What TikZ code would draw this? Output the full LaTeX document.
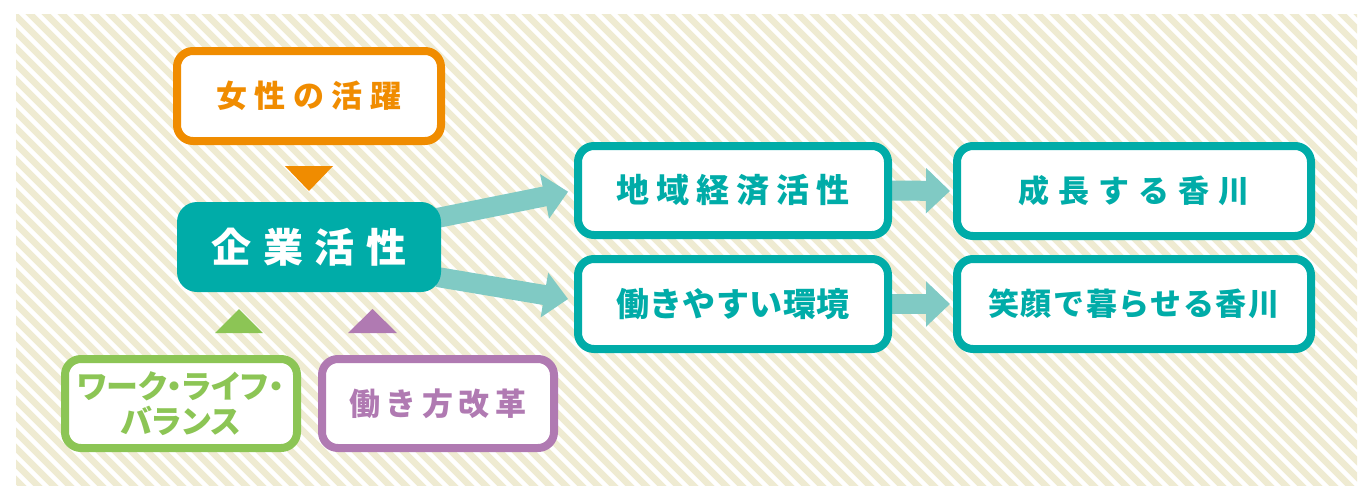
\documentclass[tikz,border=0pt]{standalone}
\usepackage{fontspec}
\newfontfamily\jp{Noto Sans CJK JP}
\usetikzlibrary{arrows.meta,backgrounds,calc}
\definecolor{tealc}{RGB}{0,172,168}
\definecolor{arrowc}{RGB}{128,202,196}
\definecolor{orangec}{RGB}{240,140,0}
\definecolor{greenc}{RGB}{140,197,85}
\definecolor{purplec}{RGB}{176,122,178}
\definecolor{stripec}{RGB}{239,235,210}
\makeatletter
\newcommand\spc[2]{\def\spc@sep{}\@tfor\spc@c:=#2\do{\spc@sep\spc@c\def\spc@sep{\kern#1pt}}}
\makeatother
\tikzset{
  box/.style={draw, line width=8pt, rounded corners=16pt, fill=white, inner sep=0pt,
    minimum height=90pt},
  f31/.style={font=\jp\bfseries\fontsize{31}{36}\selectfont},
  f33/.style={font=\jp\bfseries\fontsize{33}{38}\selectfont},
  bigarrow/.style={draw=arrowc, line width=20pt, -{Triangle[width=44pt,length=24pt]}},
  stripe/.style={draw=stripec, line width=6.5pt},
}
\begin{document}
\begin{tikzpicture}[x=1pt,y=-1pt]
\useasboundingbox (0,0) rectangle (1366,485);

\node[box, f31, draw=orangec, text=orangec, minimum width=264pt] (josei) at (309,96) {\spc{7.5}{女性の活躍}};
\node[fill=tealc, rounded corners=20pt, minimum width=264pt, minimum height=90pt, inner sep=0pt,
  text=white, font=\jp\bfseries\fontsize{40}{44}\selectfont] (kigyo) at (309,247) {\spc{11.5}{企業活性}};
\node[box, f33, draw=tealc, text=tealc, minimum width=310pt, minimum height=89pt] (chiiki) at (733,190.5) {\spc{7}{地域経済活性}};
\node[box, f33, draw=tealc, text=tealc, minimum width=310pt] (hataraki) at (733,304) {\spc{0.5}{働きやすい環境}};
\node[box, f31, draw=tealc, text=tealc, minimum width=354pt] (seicho) at (1134,191) {\spc{9}{成長する香川}};
\node[box, f31, draw=tealc, text=tealc, minimum width=354pt] (egao) at (1134,304) {\spc{1.5}{笑顔で暮らせる香川}};
\node[box, draw=greenc, text=greenc, minimum width=232pt, minimum height=89pt, align=center,
  font=\jp\bfseries\fontsize{32}{35}\selectfont\addfontfeatures{RawFeature=+palt}] (wlb) at (181,403.5) {ワーク・ライフ・\\バランス};
\node[box, f31, draw=purplec, text=purplec, minimum width=232pt, minimum height=89pt] (kaikaku) at (438,403.5) {\spc{5.5}{働き方改革}};

\fill[orangec] (285,166) -- (333,166) -- (309,191) -- cycle;
\fill[greenc] (215,333) -- (263,333) -- (239,309) -- cycle;
\fill[purplec] (348,333) -- (397,333) -- (372.5,309) -- cycle;

\begin{scope}[on background layer]
  \begin{scope}
    \clip (16,14) rectangle (1357,485);
    \foreach \c in {-480,-464,...,1360} \draw[stripe] (\c,0) -- ++(500,500);
  \end{scope}
  \draw[bigarrow, shorten >=6pt] ($(kigyo.east)+(-4,-29)$) -- (chiiki.west);
  \draw[bigarrow, shorten >=6pt] ($(kigyo.east)+(-4,30)$) -- ($(hataraki.west)+(0,-4)$);
  \draw[bigarrow, shorten >=3pt] ($(chiiki.east)+(-4,0)$) -- (seicho.west);
  \draw[bigarrow, shorten >=3pt] ($(hataraki.east)+(-4,0)$) -- (egao.west);
\end{scope}
\end{tikzpicture}
\end{document}
